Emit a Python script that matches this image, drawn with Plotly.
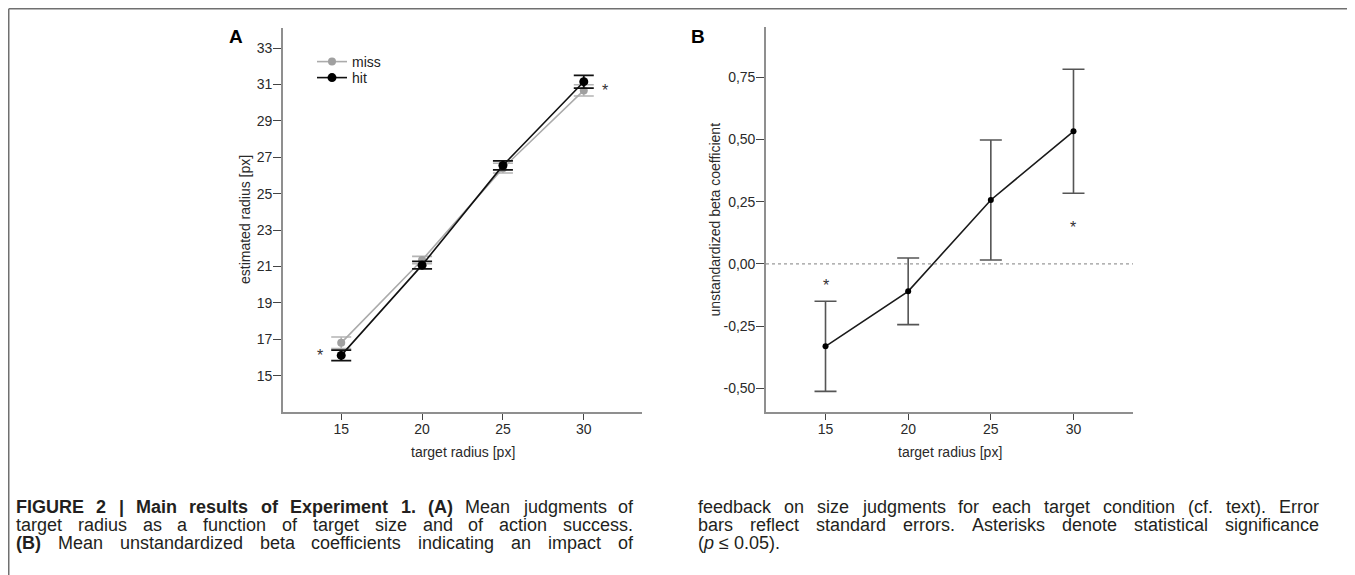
import plotly.graph_objects as go

# ---------------- data ----------------
target_radius = [15, 20, 25, 30]
miss_mean = [16.80, 21.35, 26.40, 30.67]
miss_se = [0.32, 0.20, 0.27, 0.31]
hit_mean = [16.11, 21.07, 26.55, 31.15]
hit_se = [0.29, 0.21, 0.25, 0.35]
beta_mean = [-0.331, -0.110, 0.257, 0.533]
beta_se = [0.181, 0.134, 0.241, 0.249]

x_tickvals = [15, 20, 25, 30]
a_tickvals = [15, 17, 19, 21, 23, 25, 27, 29, 31, 33]
b_tickvals = [-0.50, -0.25, 0.00, 0.25, 0.50, 0.75]
b_ticktext = ["-0,50", "-0,25", "0,00", "0,25", "0,50", "0,75"]

# page body has an 8px margin -> figure drawn from (8, 8) of the window
OFF = 8
W, H = 1355 - OFF, 575 - OFF
FONT = "Liberation Sans, Arial, sans-serif"


def px(x):
    return (x - OFF) / W


def py(y):
    return 1 - (y - OFF) / H


fig = go.Figure()

# Panel A
fig.add_trace(go.Scatter(
    x=target_radius, y=miss_mean, name="miss", mode="lines+markers", legend="legend",
    line=dict(color="#ababab", width=1.6),
    marker=dict(color="#a0a0a0", size=8),
    error_y=dict(type="data", array=miss_se, color="#b4b4b4", thickness=1.6, width=10),
    xaxis="x", yaxis="y"))
fig.add_trace(go.Scatter(
    x=target_radius, y=hit_mean, name="hit", mode="lines+markers", legend="legend2",
    line=dict(color="#111111", width=1.6),
    marker=dict(color="#000000", size=9),
    error_y=dict(type="data", array=hit_se, color="#111111", thickness=1.8, width=10),
    xaxis="x", yaxis="y"))

# Panel B
fig.add_trace(go.Scatter(
    x=target_radius, y=beta_mean, name="beta", mode="lines+markers", showlegend=False,
    line=dict(color="#1a1a1a", width=1.6),
    marker=dict(color="#000000", size=6),
    error_y=dict(type="data", array=beta_se, color="#555555", thickness=1.6, width=11),
    xaxis="x2", yaxis="y2"))

axis_common = dict(showgrid=False, zeroline=False, showline=True, linecolor="#8f8f8f",
                   linewidth=1.6, ticks="outside", tickwidth=1.4, tickcolor="#444444",
                   tickfont=dict(family=FONT, size=14, color="#2a2a2a"), fixedrange=True)

legend_common = dict(xanchor="left", yanchor="top", bgcolor="rgba(0,0,0,0)", itemwidth=30,
                     font=dict(family=FONT, size=14, color="#222222"))

fig.update_layout(
    width=W, height=H, autosize=False,
    margin=dict(l=0, r=0, t=0, b=0),
    paper_bgcolor="white", plot_bgcolor="white",
    font=dict(family=FONT, color="#222222"),
    showlegend=True,
    legend=dict(x=px(312), y=py(46), **legend_common),
    legend2=dict(x=px(312), y=py(62), **legend_common),
    xaxis=dict(domain=[px(283), px(642)], range=[11.4, 33.6], tickvals=x_tickvals,
               anchor="y", ticklen=6, ticklabelstandoff=-3, **axis_common),
    yaxis=dict(domain=[py(412), py(28)], range=[13.0, 34.1], tickvals=a_tickvals,
               anchor="x", ticklen=8, ticklabelstandoff=-2, **axis_common),
    xaxis2=dict(domain=[px(766), px(1133)], range=[11.4, 33.6], tickvals=x_tickvals,
                anchor="y2", ticklen=6, ticklabelstandoff=-3, **axis_common),
    yaxis2=dict(domain=[py(412), py(27)], range=[-0.595, 0.952], tickvals=b_tickvals,
                ticktext=b_ticktext, anchor="x2", ticklen=8, ticklabelstandoff=-2, **axis_common),
)

# zero reference line in B
fig.add_shape(type="line", xref="x2 domain", yref="y2", x0=0, x1=1, y0=0, y1=0,
              line=dict(color="#9a9a9a", width=1.3, dash="dot"))

# figure frame (open at the bottom)
frame = dict(color="#707070", width=1.5)
fig.add_shape(type="line", xref="paper", yref="paper", x0=px(8.75), x1=px(8.75), y0=-0.05, y1=py(8.75), line=frame)
fig.add_shape(type="line", xref="paper", yref="paper", x0=px(8.75), x1=px(1352), y0=py(8.75), y1=py(8.75), line=frame)
fig.add_shape(type="line", xref="paper", yref="paper", x0=px(1352), x1=px(1352), y0=-0.05, y1=py(8.75), line=frame)

ann = []


def paper_text(text, x, y, font, **kw):
    d = dict(text=text, x=px(x), y=py(y), xref="paper", yref="paper", showarrow=False,
             xanchor="center", yanchor="middle", font=font)
    d.update(kw)
    ann.append(d)


# panel letters
paper_text("<b>A</b>", 235.5, 36, dict(family=FONT, size=19, color="#000000"))
paper_text("<b>B</b>", 697.5, 36, dict(family=FONT, size=19, color="#000000"))

# axis titles
title_font = dict(family=FONT, size=14, color="#2a2a2a")
paper_text("target radius [px]", 462.5, 452, title_font)
paper_text("target radius [px]", 949.5, 452, title_font)
paper_text("estimated radius [px]", 245, 220, title_font, textangle=-90)
paper_text("unstandardized beta coefficient", 714, 219.5, title_font, textangle=-90)

# significance asterisks
star_font = dict(family=FONT, size=16, color="#333333")
ann.append(dict(text="*", x=target_radius[0], y=hit_mean[0], xref="x", yref="y", showarrow=False,
                xanchor="center", yanchor="middle", xshift=-21, yshift=0, font=star_font))
ann.append(dict(text="*", x=target_radius[3], y=hit_mean[3], xref="x", yref="y", showarrow=False,
                xanchor="center", yanchor="middle", xshift=21, yshift=-9, font=star_font))
ann.append(dict(text="*", x=target_radius[0], y=beta_mean[0] + beta_se[0], xref="x2", yref="y2",
                showarrow=False, xanchor="center", yanchor="middle", yshift=16, font=star_font))
ann.append(dict(text="*", x=target_radius[3], y=beta_mean[3] - beta_se[3], xref="x2", yref="y2",
                showarrow=False, xanchor="center", yanchor="middle", yshift=-34, font=star_font))

# ---------------- caption (justified word by word) ----------------
REG = {' ': 278, '!': 278, '(': 333, ')': 333, ',': 278, '-': 333, '.': 278, '|': 260,
       '0': 556, '1': 556, '2': 556, '5': 556, '≤': 549,
       'A': 667, 'B': 667, 'E': 667, 'F': 611, 'G': 778, 'I': 278, 'M': 833, 'R': 722, 'U': 722,
       'a': 556, 'b': 556, 'c': 500, 'd': 556, 'e': 556, 'f': 278, 'g': 556, 'h': 556, 'i': 222,
       'j': 222, 'k': 500, 'l': 222, 'm': 833, 'n': 556, 'o': 556, 'p': 556, 'q': 556, 'r': 333,
       's': 500, 't': 278, 'u': 556, 'v': 500, 'w': 722, 'x': 500, 'y': 500, 'z': 500}
BOLD = {' ': 278, '(': 333, ')': 333, '.': 278, '|': 280, '1': 556, '2': 556,
        'A': 722, 'B': 722, 'E': 667, 'F': 611, 'G': 778, 'I': 278, 'M': 833, 'R': 722, 'U': 722,
        'a': 556, 'e': 556, 'i': 278, 'l': 278, 'm': 889, 'n': 611, 'o': 611, 'p': 611, 'r': 389,
        's': 556, 't': 333, 'u': 611, 'x': 556, 'f': 333}

CAP_SIZE = 18
CAP_COLOR = "#231f20"


def wwidth(word, bold):
    tab = BOLD if bold else REG
    return sum(tab.get(c, 556) for c in word) * CAP_SIZE / 1000.0


def caption_line(segments, x0, width, ycen, justify=True):
    words = []
    for text, bold in segments:
        for w in text.split(" "):
            if w:
                words.append((w, bold))
    widths = [wwidth(w, b) for w, b in words]
    if justify and len(words) > 1:
        gap = (width - sum(widths)) / (len(words) - 1)
    else:
        gap = REG[' '] * CAP_SIZE / 1000.0
    x = x0
    for (w, b), wd in zip(words, widths):
        t = "<b>%s</b>" % w if b else w
        paper_text(t, x, ycen, dict(family=FONT, size=CAP_SIZE, color=CAP_COLOR),
                   xanchor="left", borderpad=0)
        x += wd + gap


LX, LW = 15, 617
RX, RW = 697, 621
caption_line([("FIGURE 2 | Main results of Experiment 1. (A)", True), ("Mean judgments of", False)],
             LX, LW, 507)
caption_line([("target radius as a function of target size and of action success.", False)], LX, LW, 525)
caption_line([("(B)", True), ("Mean unstandardized beta coefficients indicating an impact of", False)],
             LX, LW, 543)
caption_line([("feedback on size judgments for each target condition (cf. text). Error", False)],
             RX, RW, 507)
caption_line([("bars reflect standard errors. Asterisks denote statistical significance", False)],
             RX, RW, 525)
paper_text("(<i>p</i> ≤ 0.05).", RX, 543, dict(family=FONT, size=CAP_SIZE, color=CAP_COLOR),
           xanchor="left", borderpad=0)

fig.update_layout(annotations=ann)

fig.write_html("out.html")
